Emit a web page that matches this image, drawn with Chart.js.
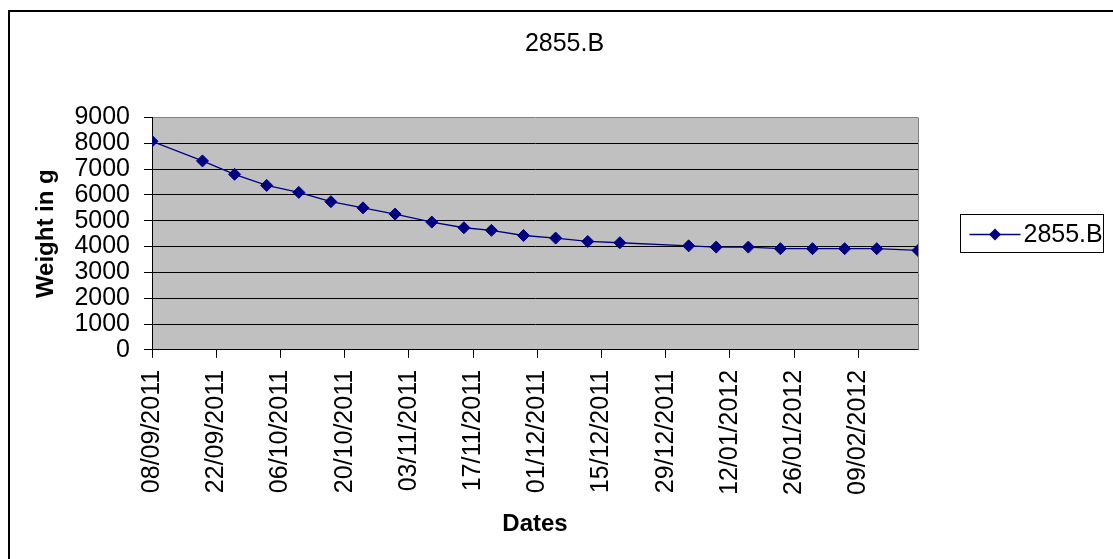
<!DOCTYPE html>
<html>
<head>
<meta charset="utf-8">
<script src="https://cdn.jsdelivr.net/npm/chart.js@4/dist/chart.umd.min.js"></script>
<style>
  body { margin: 0; background: #fff; }
  #wrap { width: 1113px; height: 559px; }
</style>
</head>
<body>
<div id="wrap"><canvas id="MyChart" width="1113" height="559"></canvas></div>
<script>
const seriesName = '2855.B'
const dates = ['2011-09-08', '2011-09-19', '2011-09-26', '2011-10-03', '2011-10-10', '2011-10-17',
  '2011-10-24', '2011-10-31', '2011-11-08', '2011-11-15', '2011-11-21', '2011-11-28',
  '2011-12-05', '2011-12-12', '2011-12-19', '2012-01-03', '2012-01-09', '2012-01-16',
  '2012-01-23', '2012-01-30', '2012-02-06', '2012-02-13', '2012-02-22']
const weights = [8080, 7320, 6800, 6370, 6100, 5740, 5500, 5260, 4950, 4730, 4630, 4430,
  4330, 4200, 4150, 4030, 3980, 3980, 3920, 3920, 3920, 3920, 3850]
const yTicks = [0, 1000, 2000, 3000, 4000, 5000, 6000, 7000, 8000, 9000]
const tickStepDays = 14

const DAY = 86400000
const start = Date.parse(dates[0])
const toDay = (s) => Math.round((Date.parse(s) - start) / DAY)
const fmt = (d) => {
  const dt = new Date(start + d * DAY)
  const p = (n) => String(n).padStart(2, '0')
  return p(dt.getUTCDate()) + '/' + p(dt.getUTCMonth() + 1) + '/' + dt.getUTCFullYear()
}
const points = dates.map((d, i) => ({ x: toDay(d), y: weights[i] }))

const navy = '#000080'
const font = 'Liberation Sans, Arial, sans-serif'
Chart.defaults.font.family = font
Chart.defaults.color = '#000'

// grey plot area, grey right border, outer frame and the boxed legend
const decor = {
  id: 'decor',
  beforeDraw(chart) {
    const { ctx, chartArea: a } = chart
    ctx.save()
    ctx.fillStyle = '#c0c0c0'
    ctx.fillRect(a.left, a.top, a.right - a.left, a.bottom - a.top)
    ctx.restore()
  },
  afterDraw(chart) {
    const { ctx, chartArea: a } = chart
    ctx.save()
    ctx.strokeStyle = '#808080'
    ctx.lineWidth = 1
    ctx.beginPath()
    ctx.moveTo(Math.round(a.right) + 0.5, a.top)
    ctx.lineTo(Math.round(a.right) + 0.5, a.bottom)
    ctx.stroke()
    ctx.strokeStyle = '#000'
    ctx.lineWidth = 2
    ctx.strokeRect(9, 11, 1200, 700)

    const bx = Math.round(a.right) + 42.5
    const cy = Math.round((a.top + a.bottom) / 2)
    ctx.lineWidth = 1
    ctx.strokeRect(bx, cy - 19.5, 143, 38)
    ctx.strokeStyle = navy
    ctx.lineWidth = 1.3
    ctx.beginPath()
    ctx.moveTo(bx + 9, cy + 0.5)
    ctx.lineTo(bx + 60, cy + 0.5)
    ctx.stroke()
    ctx.fillStyle = navy
    ctx.beginPath()
    const mx = bx + 34.5, my = cy + 0.5, r = 6
    ctx.moveTo(mx - r, my); ctx.lineTo(mx, my - r); ctx.lineTo(mx + r, my); ctx.lineTo(mx, my + r)
    ctx.closePath()
    ctx.fill()
    ctx.fillStyle = '#000'
    ctx.font = '25px ' + font
    ctx.textBaseline = 'middle'
    ctx.fillText(seriesName, bx + 63, cy + 1)
    ctx.restore()
  }
}

new Chart(document.getElementById('MyChart'), {
  type: 'line',
  data: {
    datasets: [{
      label: seriesName,
      data: points,
      borderColor: navy,
      backgroundColor: navy,
      borderWidth: 1.3,
      pointStyle: 'rectRot',
      pointRadius: 6,
      pointBorderWidth: 1,
      tension: 0
    }]
  },
  options: {
    responsive: false,
    animation: false,
    layout: { padding: { left: 16, top: 10, bottom: 20.6, right: 0 } },
    plugins: {
      legend: { display: false },
      tooltip: { enabled: false },
      title: {
        display: true,
        text: seriesName,
        font: { size: 25, weight: 'normal' },
        padding: { top: 19, bottom: 58.5 }
      }
    },
    scales: {
      x: {
        type: 'linear',
        min: 0,
        max: toDay(dates[dates.length - 1]),
        grid: { display: true, drawOnChartArea: false, color: '#000', tickLength: 8 },
        border: { color: '#000', width: 1 },
        ticks: {
          stepSize: tickStepDays,
          includeBounds: false,
          maxTicksLimit: 30,
          autoSkip: false,
          minRotation: 90,
          maxRotation: 90,
          padding: 12,
          font: { size: 25 },
          callback: (v) => fmt(v)
        },
        title: {
          display: true,
          text: 'Dates',
          font: { size: 24, weight: 'bold' },
          padding: { top: 2.6, bottom: 0 }
        }
      },
      y: {
        min: yTicks[0],
        max: yTicks[yTicks.length - 1],
        afterBuildTicks: (s) => { s.ticks = yTicks.map((v) => ({ value: v })) },
        grid: {
          color: (c) => (c.tick && c.tick.value === yTicks[yTicks.length - 1]) ? '#808080' : '#000',
          tickColor: '#000',
          tickLength: 8
        },
        border: { color: '#000', width: 1 },
        ticks: { autoSkip: false, padding: 14, font: { size: 25 }, callback: (v) => String(v) },
        title: {
          display: true,
          text: 'Weight in g',
          font: { size: 24, weight: 'bold' },
          padding: { top: 15.6, bottom: 0 }
        }
      },
      r: {
        type: 'linear',
        position: 'right',
        display: true,
        grid: { display: false },
        border: { display: false },
        ticks: { display: false },
        afterFit: (s) => { s.width = 195 }
      }
    }
  },
  plugins: [decor]
})
</script>
</body>
</html>
